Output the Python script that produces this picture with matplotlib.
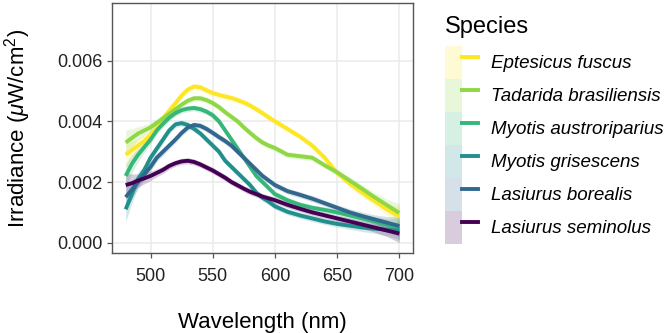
import numpy as np
import matplotlib
matplotlib.use("Agg")
import matplotlib.pyplot as plt
from matplotlib.patches import Patch
from matplotlib.lines import Line2D
from matplotlib.legend_handler import HandlerTuple

OUT_PNG = "out.png"

plt.rcParams["font.family"] = ["Liberation Sans", "DejaVu Sans"]
plt.rcParams["mathtext.fontset"] = "custom"
plt.rcParams["mathtext.rm"] = "Liberation Sans"
plt.rcParams["mathtext.it"] = "Liberation Sans:italic"

# wavelength grid (nm): 5 nm steps up to 600, 10 nm after
wavelength = [480, 485, 490, 495, 500, 505, 510, 515, 520, 525, 530, 535, 540,
              545, 550, 555, 560, 565, 570, 575, 580, 585, 590, 595, 600,
              610, 620, 630, 640, 650, 660, 670, 680, 690, 700]

species = ["Eptesicus fuscus", "Tadarida brasiliensis", "Myotis austroriparius",
           "Myotis grisescens", "Lasiurus borealis", "Lasiurus seminolus"]

eptesicus_fuscus = [0.0029, 0.00305, 0.0032, 0.00335, 0.00355, 0.0038, 0.0041, 0.00435,
                    0.0046, 0.00485, 0.00505, 0.00515, 0.00512, 0.00502, 0.00493,
                    0.00487, 0.00482, 0.00477, 0.0047, 0.00462, 0.00452, 0.0044,
                    0.00427, 0.00413, 0.0040,
                    0.00375, 0.0035, 0.0032, 0.0028, 0.0023, 0.00195, 0.00165,
                    0.00137, 0.0011, 0.00088]
tadarida_brasiliensis = [0.0033, 0.00345, 0.0036, 0.0037, 0.0038, 0.00395, 0.0041, 0.00425,
                         0.0044, 0.00455, 0.00468, 0.00476, 0.00476, 0.0047, 0.0046,
                         0.00447, 0.0043, 0.00415, 0.0040, 0.0038, 0.00362, 0.00345,
                         0.0033, 0.0032, 0.00312,
                         0.0029, 0.00285, 0.0028, 0.00255, 0.00232, 0.00205, 0.00178,
                         0.0015, 0.00124, 0.00098]
myotis_austroriparius = [0.0022, 0.0026, 0.0029, 0.00315, 0.0034, 0.0037, 0.00392, 0.00412,
                         0.00427, 0.00437, 0.00442, 0.00444, 0.0044, 0.00432, 0.0042,
                         0.0040, 0.0037, 0.0034, 0.0031, 0.0028, 0.0025, 0.0022,
                         0.0020, 0.0018, 0.0016,
                         0.0014, 0.00125, 0.00115, 0.00108, 0.0010, 0.0009, 0.0008,
                         0.0007, 0.0006, 0.00048]
myotis_grisescens = [0.0011, 0.0016, 0.0021, 0.0024, 0.0028, 0.0031, 0.0034, 0.0037,
                     0.0039, 0.00394, 0.00388, 0.00375, 0.0036, 0.0034, 0.0032,
                     0.0030, 0.0027, 0.0025, 0.0023, 0.0021, 0.0019, 0.00165,
                     0.00148, 0.00135, 0.0012,
                     0.00102, 0.0009, 0.0008, 0.0007, 0.00062, 0.00056, 0.0005,
                     0.00046, 0.00043, 0.0004]
lasiurus_borealis = [0.0015, 0.00175, 0.0020, 0.00225, 0.0025, 0.0028, 0.0030, 0.0032,
                     0.0034, 0.00362, 0.0038, 0.00388, 0.00385, 0.00375, 0.00362,
                     0.00348, 0.00335, 0.0032, 0.0030, 0.0028, 0.0026, 0.0024,
                     0.0022, 0.00205, 0.0019,
                     0.0017, 0.00158, 0.00145, 0.0013, 0.00115, 0.0010, 0.00088,
                     0.00077, 0.00066, 0.00055]
lasiurus_seminolus = [0.0019, 0.00196, 0.00205, 0.00212, 0.0022, 0.0023, 0.0024, 0.00253,
                      0.00262, 0.00268, 0.0027, 0.00266, 0.00258, 0.00248, 0.00238,
                      0.00226, 0.00214, 0.0020, 0.00189, 0.00178, 0.00168, 0.0016,
                      0.00152, 0.00146, 0.0014,
                      0.00125, 0.00112, 0.0010, 0.0009, 0.0008, 0.0007, 0.0006,
                      0.0005, 0.0004, 0.0003]

# half width of the confidence ribbon
ribbon_se = [0.0004, 0.0003, 0.00022, 0.00018, 0.00015, 0.00013, 0.00012, 0.00011,
             0.0001, 0.0001, 0.0001, 0.0001, 0.0001, 0.0001, 0.0001,
             0.0001, 0.0001, 0.0001, 0.0001, 0.0001, 0.0001, 0.0001,
             0.0001, 0.0001, 0.0001,
             0.0001, 0.0001, 0.0001, 0.0001, 0.0001, 0.00012, 0.00013,
             0.00015, 0.0002, 0.0003]

colors = ["#FDE725", "#8FD744", "#35B779", "#21908C", "#31688E", "#440154"]


def plot_irradiance():
    series = [eptesicus_fuscus, tadarida_brasiliensis, myotis_austroriparius,
              myotis_grisescens, lasiurus_borealis, lasiurus_seminolus]

    fig = plt.figure(figsize=(6.69, 3.33), dpi=100)
    ax = fig.add_axes([112 / 669, 1 - 253 / 333, 301 / 669, 250 / 333])

    x = np.array(wavelength)
    se = np.array(ribbon_se)
    handles = []
    for name, vals, col in zip(species, series, colors):
        y = np.array(vals)
        ax.fill_between(x, y - se, y + se, color=col, alpha=0.2, linewidth=0)
        ax.plot(x, y, color=col, linewidth=2.8, solid_capstyle="butt",
                solid_joinstyle="round")
        handles.append((Patch(facecolor=col, alpha=0.2, edgecolor="none"),
                        Line2D([], [], color=col, linewidth=2.8)))

    ax.set_xlim(469, 711)
    ax.set_ylim(-0.00034, 0.0079)
    ax.set_xticks([500, 550, 600, 650, 700])
    ax.set_yticks([0.0, 0.002, 0.004, 0.006])
    ax.set_yticklabels(["0.000", "0.002", "0.004", "0.006"])

    ax.grid(True, color="#EBEBEB", linewidth=1.1)
    ax.set_axisbelow(True)
    for sp in ax.spines.values():
        sp.set_color("#555555")
        sp.set_linewidth(1.0)
    ax.tick_params(length=3.5, width=0.9, color="#555555", pad=3.5,
                   labelsize=13, labelcolor="#222222")
    ax.tick_params(axis="x", pad=7.5)

    ax.set_xlabel("Wavelength (nm)", fontsize=16, labelpad=19)
    ax.set_ylabel(r"Irradiance ($\mu$W/cm$^2$)", fontsize=16, labelpad=17)

    fig.text(445 / 669, 1 - 33 / 333, "Species", fontsize=17, va="baseline",
             ha="left", color="black")
    fig.legend(handles, species, loc="upper left",
               bbox_to_anchor=(445 / 669, 1 - 46 / 333),
               handler_map={tuple: HandlerTuple(ndivide=None, pad=0)},
               frameon=False, handlelength=1.76, handleheight=2.33, labelspacing=0,
               handletextpad=0.7, borderpad=0, borderaxespad=0,
               prop={"style": "italic", "size": 13.5})

    fig.savefig(OUT_PNG, dpi=100)
    plt.close(fig)


def main():
    plot_irradiance()


if __name__ == "__main__":
    main()
